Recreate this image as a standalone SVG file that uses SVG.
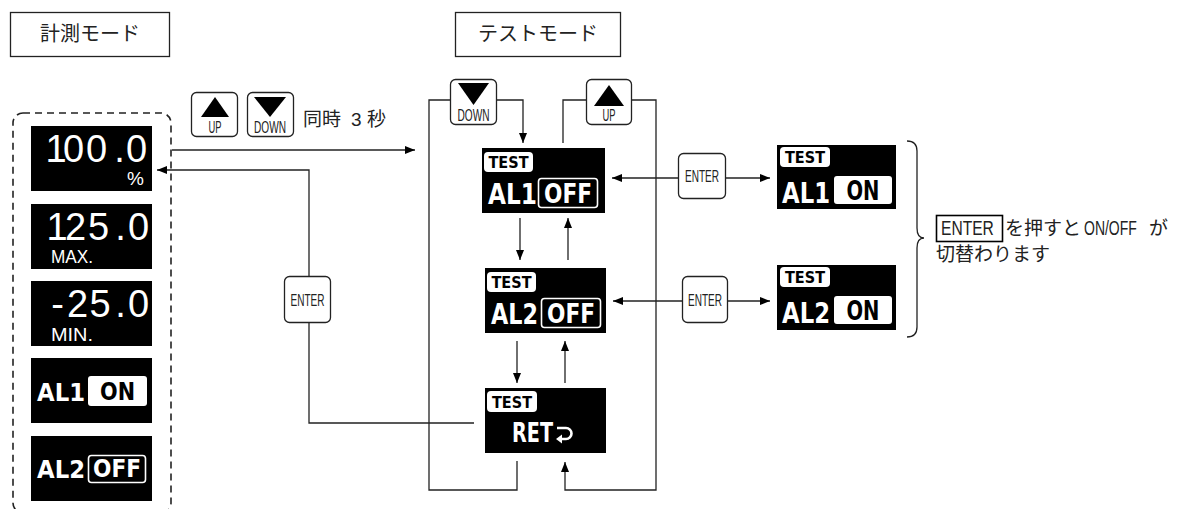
<svg xmlns="http://www.w3.org/2000/svg" width="1189" height="509" viewBox="0 0 1189 509">
<defs>
<style>
.lbl{font-family:"Noto Sans CJK JP","Noto Sans",sans-serif;font-size:19px;fill:#222}
.ttl{font-family:"Noto Sans CJK JP","Noto Sans",sans-serif;font-size:20px;fill:#222;text-anchor:middle}
.lat{font-family:"Liberation Sans",Arial,sans-serif;font-size:20px;fill:#222}
.box{fill:#fff;stroke:#222;stroke-width:1.3}
.btn{fill:#fff;stroke:#222;stroke-width:1.3}
.tri{fill:#000}
.bt{font-family:"Liberation Sans",Arial,sans-serif;font-size:16px;fill:#222;text-anchor:middle}
.scr{fill:#000}
.num{font-family:"Liberation Sans",Arial,sans-serif;font-size:38px;fill:#fff;text-anchor:middle}
.sub{font-family:"Liberation Sans",Arial,sans-serif;font-size:19px;fill:#fff}
.al{font-family:"DejaVu Sans",sans-serif;font-weight:bold;fill:#fff}
.alk{font-family:"DejaVu Sans",sans-serif;font-weight:bold;fill:#000;text-anchor:middle}
.alw{font-family:"DejaVu Sans",sans-serif;font-weight:bold;fill:#fff;text-anchor:middle}
.badge{fill:#fff}
.bdt{font-family:"DejaVu Sans",sans-serif;font-weight:bold;font-size:16px;fill:#000;text-anchor:middle}
.onb{fill:#fff}
.offb{fill:none;stroke:#fff;stroke-width:1.6}
.ln{fill:none;stroke:#222;stroke-width:1.3}
.arr{marker-end:url(#ah)}
.dash{fill:none;stroke:#222;stroke-width:1.6;stroke-dasharray:7 5}
</style>
<marker id="ah" viewBox="0 0 10 8" refX="10" refY="4" markerWidth="10" markerHeight="8" markerUnits="userSpaceOnUse" orient="auto">
<path d="M0,0 L10,4 L0,8 Z" fill="#000"/>
</marker>
</defs>
<rect width="1189" height="509" fill="#fff"/>

<g id="mode-measure">
<rect class="box" x="10.5" y="12.5" width="159" height="44"/>
<text class="ttl" x="90" y="41">計測モード</text>
</g>
<g id="mode-test">
<rect class="box" x="455.5" y="12.5" width="165" height="44"/>
<text class="ttl" x="538" y="41">テストモード</text>
</g>

<g id="measure-group">
<rect class="dash" x="13" y="113" width="158" height="400" rx="10"/>
</g>

<g id="m-value">
<rect class="scr" x="31" y="126" width="121" height="65"/>
<text class="num" x="56 73.5 96.5 119.5 136.5" y="162">100.0</text>
<text class="sub" x="127" y="185">%</text>
</g>
<g id="m-max">
<rect class="scr" x="31" y="204" width="121" height="65"/>
<text class="num" x="57 75.5 98.5 120.5 138.5" y="240">125.0</text>
<text class="sub" x="51" y="263" textLength="42" lengthAdjust="spacingAndGlyphs">MAX.</text>
</g>
<g id="m-min">
<rect class="scr" x="31" y="281" width="121" height="65"/>
<text class="num" x="57.5 77.5 100 120.5 138.5" y="317">-25.0</text>
<text class="sub" x="51" y="341" textLength="42" lengthAdjust="spacingAndGlyphs">MIN.</text>
</g>
<g id="m-al1">
<rect class="scr" x="31" y="358" width="121" height="65"/>
<text class="al" x="37" y="401" font-size="25" textLength="48" lengthAdjust="spacingAndGlyphs">AL1</text>
<rect class="onb" x="88" y="376" width="59" height="30" rx="3"/>
<text class="alk" x="117.5" y="400" font-size="24" textLength="35" lengthAdjust="spacingAndGlyphs">ON</text>
</g>
<g id="m-al2">
<rect class="scr" x="31" y="436" width="121" height="65"/>
<text class="al" x="37" y="478" font-size="25" textLength="48" lengthAdjust="spacingAndGlyphs">AL2</text>
<rect class="offb" x="88.5" y="455.5" width="57" height="27" rx="3"/>
<text class="alw" x="117" y="477" font-size="24" textLength="48" lengthAdjust="spacingAndGlyphs">OFF</text>
</g>

<g id="btn-up-1">
<rect class="btn" x="191.5" y="92.5" width="46" height="44" rx="5"/>
<path class="tri" d="M215,97 L229,117 L201,117 Z"/>
<text class="bt" x="215" y="133" font-size="15" textLength="13" lengthAdjust="spacingAndGlyphs">UP</text>
</g>
<g id="btn-down-1">
<rect class="btn" x="247.5" y="92.5" width="46" height="44" rx="5"/>
<path class="tri" d="M254,97 L286,97 L270,117 Z"/>
<text class="bt" x="270" y="133" font-size="15" textLength="32" lengthAdjust="spacingAndGlyphs">DOWN</text>
</g>
<g id="label-3s">
<text class="lbl" y="126" font-size="20"><tspan x="303">同時</tspan><tspan x="351" font-family="Liberation Sans, sans-serif">3</tspan><tspan x="367">秒</tspan></text>
</g>

<g id="btn-enter-left">
<rect class="btn" x="284.5" y="276.5" width="46" height="46" rx="5"/>
<text class="bt" x="307.5" y="305.5" textLength="34" lengthAdjust="spacingAndGlyphs">ENTER</text>
</g>

<g id="btn-down-2">
<rect class="btn" x="450.5" y="79.5" width="46" height="45" rx="5"/>
<path class="tri" d="M458,83 L489,83 L473.5,105 Z"/>
<text class="bt" x="473.5" y="121" font-size="15" textLength="32" lengthAdjust="spacingAndGlyphs">DOWN</text>
</g>
<g id="btn-up-2">
<rect class="btn" x="586.5" y="79.5" width="45" height="45" rx="5"/>
<path class="tri" d="M609,85 L624,106 L594,106 Z"/>
<text class="bt" x="609" y="121" font-size="15" textLength="13" lengthAdjust="spacingAndGlyphs">UP</text>
</g>

<g id="t-al1">
<rect class="scr" x="482" y="148" width="123" height="65"/>
<rect class="badge" x="484" y="152" width="49" height="20" rx="4"/>
<text class="bdt" x="508.5" y="168" textLength="40" lengthAdjust="spacingAndGlyphs">TEST</text>
<text class="al" x="488" y="204" font-size="28" textLength="49" lengthAdjust="spacingAndGlyphs">AL1</text>
<rect class="offb" x="538.5" y="178.5" width="59" height="29" rx="3"/>
<text class="alw" x="568" y="203" font-size="26" textLength="48" lengthAdjust="spacingAndGlyphs">OFF</text>
</g>
<g id="t-al2">
<rect class="scr" x="485" y="268" width="121" height="65"/>
<rect class="badge" x="487" y="272" width="49" height="20" rx="4"/>
<text class="bdt" x="511.5" y="288" textLength="40" lengthAdjust="spacingAndGlyphs">TEST</text>
<text class="al" x="491" y="324" font-size="28" textLength="47" lengthAdjust="spacingAndGlyphs">AL2</text>
<rect class="offb" x="541.5" y="298.5" width="59" height="29" rx="3"/>
<text class="alw" x="571" y="323" font-size="26" textLength="48" lengthAdjust="spacingAndGlyphs">OFF</text>
</g>
<g id="t-ret">
<rect class="scr" x="485" y="388" width="121" height="65"/>
<rect class="badge" x="487" y="391" width="50" height="21" rx="4"/>
<text class="bdt" x="512" y="407.5" textLength="40" lengthAdjust="spacingAndGlyphs">TEST</text>
<text class="al" x="512" y="442" font-size="27" textLength="41" lengthAdjust="spacingAndGlyphs">RET</text>
<path d="M557,428 H566 A5.5,5.5 0 0 1 566,439 H561" fill="none" stroke="#fff" stroke-width="2.6"/>
<path d="M556,439 L562,434.5 L562,443.5 Z" fill="#fff"/>
</g>

<g id="btn-enter-1">
<rect class="btn" x="678.5" y="153.5" width="47" height="45" rx="5"/>
<text class="bt" x="702" y="181.5" textLength="34" lengthAdjust="spacingAndGlyphs">ENTER</text>
</g>
<g id="btn-enter-2">
<rect class="btn" x="682.5" y="276.5" width="45" height="46" rx="5"/>
<text class="bt" x="705" y="305.5" textLength="34" lengthAdjust="spacingAndGlyphs">ENTER</text>
</g>

<g id="r-al1-on">
<rect class="scr" x="777" y="145" width="119" height="64"/>
<rect class="badge" x="780" y="147" width="50" height="20" rx="4"/>
<text class="bdt" x="805" y="163" textLength="40" lengthAdjust="spacingAndGlyphs">TEST</text>
<text class="al" x="782" y="203" font-size="28" textLength="48" lengthAdjust="spacingAndGlyphs">AL1</text>
<rect class="onb" x="834" y="176" width="58" height="28" rx="3"/>
<text class="alk" x="863" y="200" font-size="26" textLength="33" lengthAdjust="spacingAndGlyphs">ON</text>
</g>
<g id="r-al2-on">
<rect class="scr" x="777" y="265" width="119" height="65"/>
<rect class="badge" x="780" y="267" width="50" height="20" rx="4"/>
<text class="bdt" x="805" y="283" textLength="40" lengthAdjust="spacingAndGlyphs">TEST</text>
<text class="al" x="782" y="323" font-size="28" textLength="48" lengthAdjust="spacingAndGlyphs">AL2</text>
<rect class="onb" x="834" y="296" width="58" height="28" rx="3"/>
<text class="alk" x="863" y="320" font-size="26" textLength="33" lengthAdjust="spacingAndGlyphs">ON</text>
</g>

<g id="note">
<rect fill="none" stroke="#000" stroke-width="1.6" x="936.5" y="215.5" width="66" height="26"/>
<text class="lat" transform="translate(941,235) scale(0.78,1)">ENTER</text>
<text class="lbl" x="1005" y="235">を押すと</text>
<text class="lat" transform="translate(1084,235) scale(0.7,1)">ON/OFF</text>
<text class="lbl" x="1149" y="235">が</text>
<text class="lbl" x="936" y="261">切替わります</text>
</g>

<g id="connectors">
<path class="ln arr" d="M172,150 H415"/>
<path class="ln" d="M474,423 H309 V323"/>
<path class="ln arr" d="M309,276 V170 H157"/>
<path class="ln" d="M517,461 V490 H429 V100 H450"/>
<path class="ln arr" d="M497,100 H523 V143"/>
<path class="ln" d="M563,143 V100 H586"/>
<path class="ln arr" d="M632,100 H656 V490 H565 V462"/>
<path class="ln arr" d="M520,218 V260"/>
<path class="ln arr" d="M568,260 V218"/>
<path class="ln arr" d="M517,341 V383"/>
<path class="ln arr" d="M565,383 V341"/>
<path class="ln arr" d="M678,178 H612"/>
<path class="ln arr" d="M726,178 H770"/>
<path class="ln arr" d="M682,301 H613"/>
<path class="ln arr" d="M727,301 H770"/>
<path class="ln" d="M907,141 Q917,141 917,151 V228 Q917,238 924,238 Q917,238 917,248 V327 Q917,337 907,337"/>
</g>
</svg>
